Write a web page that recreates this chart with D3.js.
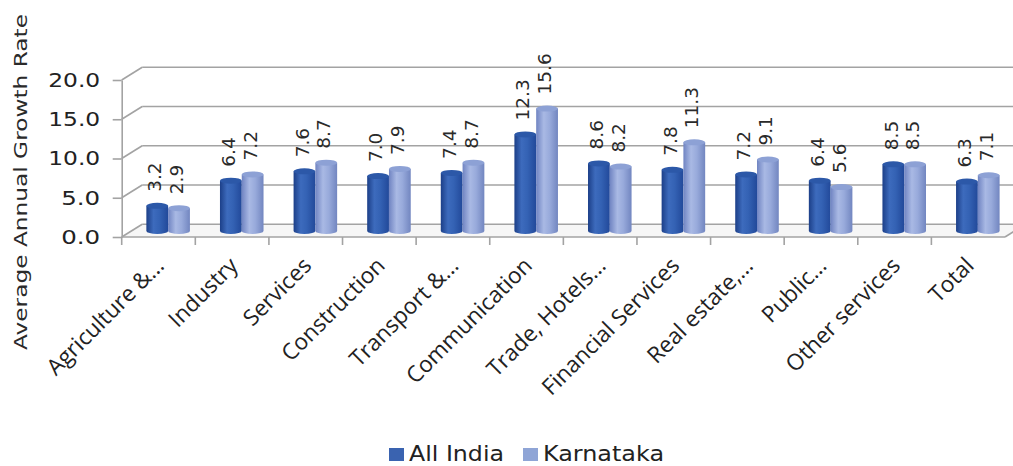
<!DOCTYPE html>
<html>
<head>
<meta charset="utf-8">
<script src="https://cdn.jsdelivr.net/npm/d3@7"></script>
<style>
  html, body { margin: 0; padding: 0; background: #fff; }
  svg { display: block; }
</style>
</head>
<body>
<script>
// ---- data ----
const categories = ["Agriculture &\u2026", "Industry", "Services", "Construction", "Transport &\u2026",
  "Communication", "Trade, Hotels\u2026", "Financial Services", "Real estate,\u2026", "Public\u2026",
  "Other services", "Total"];
const seriesNames = ["All India", "Karnataka"];
const allIndia  = [3.2, 6.4, 7.6, 7.0, 7.4, 12.3, 8.6, 7.8, 7.2, 6.4, 8.5, 6.3];
const karnataka = [2.9, 7.2, 8.7, 7.9, 8.7, 15.6, 8.2, 11.3, 9.1, 5.6, 8.5, 7.1];
const yTicks = [0, 5, 10, 15, 20];
const yTitle = "Average Annual Growth Rate";

// ---- layout ----
const W = 1013, H = 466;
const X0 = 121.7, X1 = 1005, YB = 237, YT = 80;
const DX = 20.5, DY = -12.8;      // full depth offset of back wall
const BAR_DEPTH = 0.47;           // depth where bars stand
const RY = 3;                     // ellipse radius of cylinder caps
const GRID = "#a3a3a3";

const svg = d3.select("body").append("svg").attr("width", W).attr("height", H);
const defs = svg.append("defs");

const x = d3.scaleBand().domain(categories).range([X0, X1]).paddingInner(0).paddingOuter(0);
const y = d3.scaleLinear().domain([0, 20]).range([YB, YT]);
const xs = d3.scaleBand().domain(seriesNames).range([0, x.bandwidth()]).paddingInner(0).paddingOuter(0.69);

const data = seriesNames.map((s, si) => ({ name: s, values: si === 0 ? allIndia : karnataka }));

// gradients
const grads = [
  { id: "gAI", stops: [[0, "#1c3f88"], [0.33, "#3d6bbd"], [0.6, "#3462b4"], [1, "#22499a"]], top: "#2c58a8", legend: "#3a63b0" },
  { id: "gKA", stops: [[0, "#7084c2"], [0.35, "#a9b9e4"], [0.62, "#98aadb"], [1, "#7286c0"]], top: "#8da1d5", legend: "#8fa5d6" }
];
grads.forEach(g => {
  const lg = defs.append("linearGradient").attr("id", g.id).attr("x1", "0").attr("x2", "1").attr("y1", "0").attr("y2", "0");
  g.stops.forEach(s => lg.append("stop").attr("offset", s[0]).attr("stop-color", s[1]));
});

// ---- floor ----
svg.append("path")
  .attr("d", `M${X0},${y(0)} L${X1},${y(0)} L${X1 + DX},${y(0) + DY} L${X0 + DX},${y(0) + DY} Z`)
  .attr("fill", "#f6f6f6").attr("stroke", "none");

// ---- back wall gridlines & side wall diagonals ----
const grid = svg.append("g").attr("stroke", GRID).attr("stroke-width", 1.6).attr("fill", "none");
yTicks.forEach(v => {
  grid.append("line").attr("x1", X0 + DX).attr("x2", X1 + DX).attr("y1", y(v) + DY).attr("y2", y(v) + DY);
  grid.append("line").attr("x1", X0).attr("x2", X0 + DX).attr("y1", y(v)).attr("y2", y(v) + DY);
});
// floor front & right edges
grid.append("line").attr("x1", X0).attr("x2", X1).attr("y1", y(0)).attr("y2", y(0));
grid.append("line").attr("x1", X1).attr("x2", X1 + DX).attr("y1", y(0)).attr("y2", y(0) + DY);
// category ticks at band boundaries
categories.forEach(c => {
  grid.append("line").attr("x1", x(c)).attr("x2", x(c)).attr("y1", y(0)).attr("y2", y(0) + 8);
});

// ---- front y axis ----
const yAxis = d3.axisLeft(y).tickValues(yTicks).tickFormat(d3.format(".1f")).tickSize(9).tickSizeOuter(0).tickPadding(12.5);
const ya = svg.append("g").attr("transform", `translate(${X0},0)`).call(yAxis);
ya.select(".domain").attr("stroke", GRID).attr("stroke-width", 1.6);
ya.selectAll(".tick line").attr("stroke", GRID).attr("stroke-width", 1.6);
ya.selectAll(".tick text")
  .attr("font-family", "DejaVu Sans").attr("font-size", 20).attr("fill", "#222")
  .attr("textLength", d => d >= 10 ? 52 : 39).attr("lengthAdjust", "spacingAndGlyphs");

// ---- bars (cylinders) ----
const offX = DX * BAR_DEPTH, offY = DY * BAR_DEPTH;
const barsG = svg.append("g");
const labelsG = svg.append("g");
categories.forEach((c, ci) => {
  data.forEach((s, si) => {
    const v = s.values[ci];
    const l = x(c) + xs(s.name) + offX;
    const r = l + xs.bandwidth();
    const rx = xs.bandwidth() / 2;
    const cx = l + rx;
    const yb = y(0) + offY;
    const yt = y(v) + offY;
    const g = barsG.append("g");
    g.append("path")
      .attr("d", `M${l},${yt} L${l},${yb} A${rx},${RY} 0 0 0 ${r},${yb} L${r},${yt} Z`)
      .attr("fill", `url(#${grads[si].id})`);
    g.append("ellipse").attr("cx", cx).attr("cy", yt).attr("rx", rx).attr("ry", RY)
      .attr("fill", grads[si].top);
    labelsG.append("text")
      .attr("transform", `translate(${cx - 2.5},${yt - RY - 11}) rotate(-90)`)
      .attr("dy", "0.36em")
      .attr("font-family", "DejaVu Sans").attr("font-size", 18.5).attr("fill", "#2a2a2a")
      .attr("text-anchor", "start")
      .text(d3.format(".1f")(v));
  });
});

// ---- category labels ----
svg.append("g").selectAll("text").data(categories).join("text")
  .attr("transform", d => `translate(${x(d) + x.bandwidth() / 2 + 7},${y(0) + 30}) rotate(-45)`)
  .attr("text-anchor", "end")
  .attr("font-family", "Open Sans").attr("font-size", 22.5).attr("fill", "#222")
  .text(d => d);

// ---- y title ----
svg.append("text")
  .attr("transform", `translate(27,182) rotate(-90)`)
  .attr("text-anchor", "middle")
  .attr("font-family", "DejaVu Sans").attr("font-size", 17.5).attr("fill", "#2a2a2a")
  .attr("textLength", 336).attr("lengthAdjust", "spacingAndGlyphs")
  .text(yTitle);

// ---- legend ----
const legendX = [389, 523];
const lg = svg.append("g");
seriesNames.forEach((s, i) => {
  lg.append("rect").attr("x", legendX[i]).attr("y", 448).attr("width", 15).attr("height", 13)
    .attr("fill", grads[i].legend);
  lg.append("text").attr("x", legendX[i] + 20).attr("y", 461)
    .attr("font-family", "DejaVu Sans").attr("font-size", 22).attr("fill", "#222")
    .attr("textLength", i === 0 ? 95 : 121).attr("lengthAdjust", "spacingAndGlyphs")
    .text(s);
});
</script>
</body>
</html>
